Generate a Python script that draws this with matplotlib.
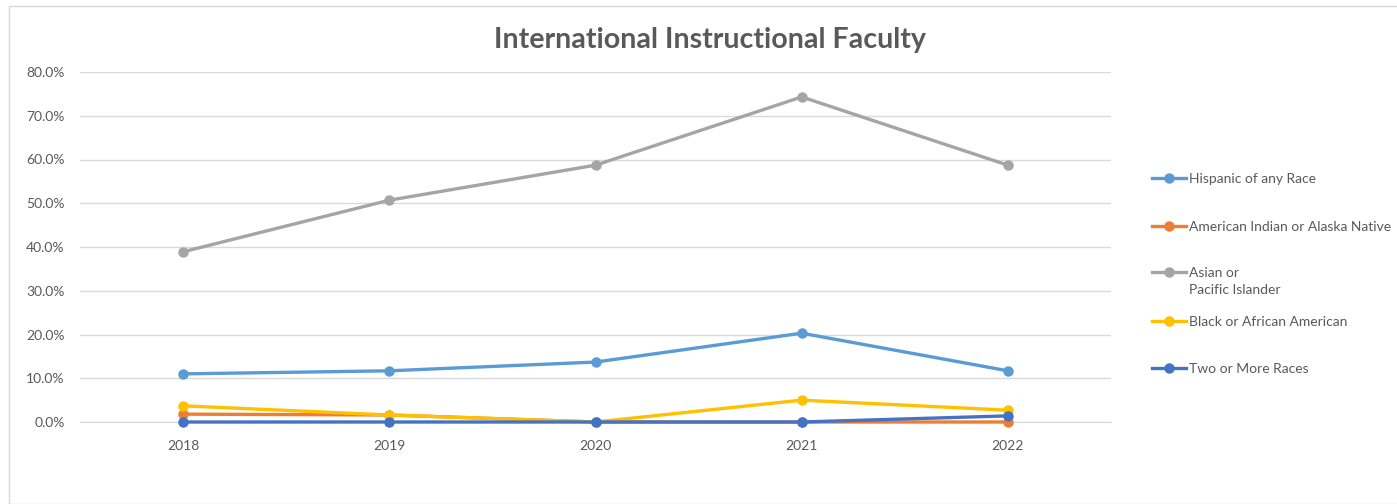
"""
International instructional faculty by race, 2018-2022
"""

import matplotlib.pyplot as plt
from matplotlib.lines import Line2D
from matplotlib.patches import Rectangle
from matplotlib.ticker import PercentFormatter

plt.rcParams["font.family"] = ["Lato", "DejaVu Sans"]

years = ["2018", "2019", "2020", "2021", "2022"]
hispanic = [11.0, 11.7, 13.7, 20.3, 11.7]
american_indian = [1.8, 1.6, 0.0, 0.0, 0.0]
asian = [38.9, 50.7, 58.7, 74.3, 58.7]
black = [3.7, 1.6, 0.0, 5.0, 2.7]
two_or_more = [0.0, 0.0, 0.0, 0.0, 1.4]

series = [
    ("Hispanic of any Race", hispanic, "#5B9BD5"),
    ("American Indian or Alaska Native", american_indian, "#ED7D31"),
    ("Asian or\nPacific Islander", asian, "#A5A5A5"),
    ("Black or African American", black, "#FFC000"),
    ("Two or More Races", two_or_more, "#4472C4"),
]

text_color = "#595959"
W, H = 1397, 504

fig = plt.figure(figsize=(W / 100, H / 100), dpi=100)
ax = fig.add_axes([80 / W, 1 - 422 / H, 1031 / W, 350 / H])

x = range(len(years))
for label, values, color in series:
    ax.plot(x, values, color=color, lw=2.4, marker="o", markersize=6.5,
            label=label, solid_capstyle="round", clip_on=False, zorder=3)

ax.set_xlim(-0.5, len(years) - 0.5)
ax.set_ylim(0, 80)
ax.set_yticks(range(0, 81, 10))
ax.yaxis.set_major_formatter(PercentFormatter(decimals=1))
ax.set_xticks(list(x))
ax.set_xticklabels(years)
ax.grid(axis="y", color="#D9D9D9", lw=1)
ax.set_axisbelow(True)
for side in ["top", "right", "left"]:
    ax.spines[side].set_visible(False)
ax.spines["bottom"].set_color("#D9D9D9")
ax.tick_params(length=0, labelsize=10, colors=text_color)
ax.tick_params(axis="x", pad=13)
ax.tick_params(axis="y", pad=11)

fig.text(710 / W, 1 - 40 / H, "International Instructional Faculty", ha="center",
         va="center", fontsize=20.6, fontweight="bold", color=text_color)

# legend drawn by hand so the two-line entry sits like the original
row_y = [178, 226, 272, 321, 368]
for (label, _, color), yp in zip(series, row_y):
    yf = 1 - yp / H
    fig.add_artist(Line2D([1152 / W, 1169 / W, 1186 / W], [yf, yf, yf],
                          transform=fig.transFigure, color=color, lw=2.4,
                          marker="o", markersize=6.5, markevery=[1]))
    fig.text(1189 / W, 1 - (yp - 5) / H, label, ha="left", va="top",
             fontsize=10, color=text_color, linespacing=1.45)

fig.patches.append(Rectangle((9 / W, 0), 1, 1 - 6 / H, transform=fig.transFigure,
                             fill=False, edgecolor="#D9D9D9", lw=1))

fig.savefig("out.png", dpi=100)
